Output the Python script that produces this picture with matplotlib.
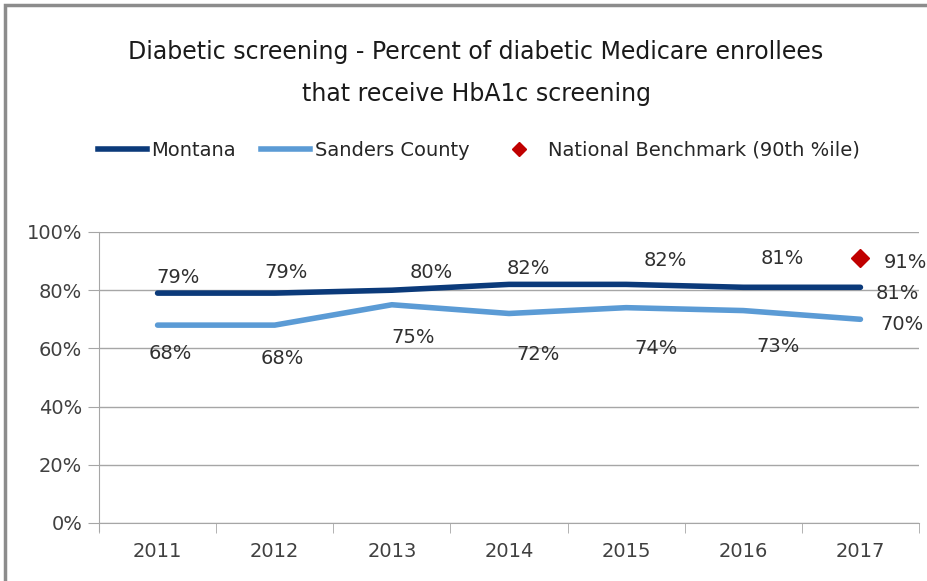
import matplotlib
matplotlib.use('Agg')
from matplotlib import pyplot as plt
from matplotlib.patches import Rectangle
from matplotlib.lines import Line2D

# Datos
years = ['2011', '2012', '2013', '2014', '2015', '2016', '2017']
montana = [79, 79, 80, 82, 82, 81, 81]
sanders = [68, 68, 75, 72, 74, 73, 70]
benchmark_year = 6
benchmark = 91

# Desplazamientos de las etiquetas (pixeles)
mt_off = [(20, 16), (11, 21), (39, 18), (19, 16), (39, 24), (39, 29), (37, -6)]
sc_off = [(13, -28), (8, -33), (21, -33), (29, -41), (30, -41), (35, -36), (42, -5)]
bm_off = (45, -4)

num_font = ['DejaVu Sans']

fig = plt.figure(figsize=(9.28, 5.81), dpi=100)
fig.patches.append(Rectangle((5 / 928, -0.1), 1.2, 1.1 - 5 / 581,
                             transform=fig.transFigure, fill=False,
                             edgecolor='#8c8c8c', linewidth=2.5))

ax = fig.add_axes([99 / 928, 1 - 523 / 581, (919 - 99) / 928, (523 - 232) / 581])
x = list(range(len(years)))

ax.plot(x, montana, color='#0b3a7a', linewidth=4, solid_capstyle='round', zorder=3)
ax.plot(x, sanders, color='#5b9bd5', linewidth=4, solid_capstyle='round', zorder=3)
ax.plot([benchmark_year], [benchmark], marker='D', color='#c00000',
        markersize=9, linestyle='none', zorder=4)

for i, v in enumerate(montana):
    ax.annotate(f'{v}%', (i, v), xytext=mt_off[i], textcoords='offset pixels',
                ha='center', va='center', fontsize=14, color='#303030', family=num_font)
for i, v in enumerate(sanders):
    ax.annotate(f'{v}%', (i, v), xytext=sc_off[i], textcoords='offset pixels',
                ha='center', va='center', fontsize=14, color='#303030', family=num_font)
ax.annotate(f'{benchmark}%', (benchmark_year, benchmark), xytext=bm_off,
            textcoords='offset pixels', ha='center', va='center', fontsize=14,
            color='#303030', family=num_font)

ax.set_xlim(-0.5, len(years) - 0.5)
ax.set_ylim(0, 100)
ax.set_yticks(range(0, 101, 20))
ax.set_yticklabels([f'{t}%' for t in range(0, 101, 20)], family=num_font,
                   fontsize=14, color='#404040')
ax.set_xticks(x)
ax.set_xticklabels(years, family=num_font, fontsize=14, color='#404040')
ax.set_xticks([i - 0.5 for i in range(len(years) + 1)], minor=True)
ax.tick_params(axis='x', which='major', length=0, pad=14)
ax.tick_params(axis='x', which='minor', length=7, color='#a6a6a6', direction='out')
ax.tick_params(axis='y', length=8, color='#a6a6a6', pad=4)
ax.grid(axis='y', color='#a6a6a6', linewidth=1)
ax.set_axisbelow(True)
for s in ['top', 'right']:
    ax.spines[s].set_visible(False)
ax.spines['left'].set_color('#a6a6a6')
ax.spines['left'].set_bounds(-2.7, 100)
ax.spines['bottom'].set_color('#a6a6a6')

fig.text(476 / 928, 1 - 73 / 581,
         'Diabetic screening - Percent of diabetic Medicare enrollees\nthat receive HbA1c screening',
         ha='center', va='center', fontsize=17, linespacing=1.9,
         family='DejaVu Sans', color='#1a1a1a')

handles = [Line2D([], [], color='#0b3a7a', linewidth=4),
           Line2D([], [], color='#5b9bd5', linewidth=4),
           Line2D([], [], color='#c00000', marker='D', markersize=7, linestyle='none')]
fig.legend(handles, ['Montana', 'Sanders County', 'National Benchmark (90th %ile)'],
           loc='center', bbox_to_anchor=(479 / 928, 1 - 150 / 581), ncol=3,
           frameon=False, prop={'family': 'DejaVu Sans', 'size': 14}, handlelength=2.5,
           handletextpad=0.25, columnspacing=1.3, labelcolor='#262626')

fig.savefig('out.png', dpi=100)
